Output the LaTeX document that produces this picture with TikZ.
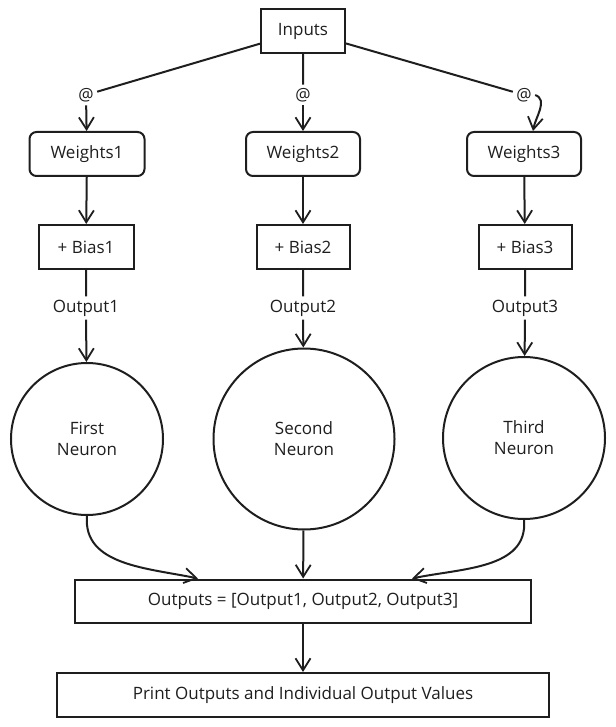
\documentclass[tikz,border=0pt]{standalone}
\usepackage{fontspec}
\setmainfont{Open Sans}
\usetikzlibrary{arrows.meta}
\definecolor{ink}{HTML}{1E1E1E}
\begin{document}
\begin{tikzpicture}
  [x=1pt,y=-1pt,
   every node/.style={font=\fontsize{17}{21}\selectfont,text=ink},
   box/.style={draw=ink,line width=2pt,rectangle,minimum height=44pt,inner sep=0pt},
   rbox/.style={box,rounded corners=7pt},
   neuron/.style={draw=ink,line width=2pt,circle,align=center,inner sep=0pt},
   arr/.style={-{Straight Barb[length=12pt,width=15pt,line width=1.8pt]}}]
  \useasboundingbox (0,0) rectangle (615,727);
  \node[box,minimum width=84pt] (in) at (303,31) {Inputs};
  \node (at1) at (86,95) {@};
  \node (at2) at (303,95) {@};
  \node (at3) at (524,95) {@};
  \node[rbox,minimum width=115pt] (w1) at (87,154) {Weights1};
  \node[rbox,minimum width=114pt] (w2) at (303,154) {Weights2};
  \node[rbox,minimum width=114pt] (w3) at (524,154) {Weights3};
  \node[box,minimum width=95pt] (b1) at (86,247) {+ Bias1};
  \node[box,minimum width=93pt] (b2) at (303,247) {+ Bias2};
  \node[box,minimum width=93pt] (b3) at (525,247) {+ Bias3};
  \node (o1) at (86,308) {Output1};
  \node (o2) at (303,308) {Output2};
  \node (o3) at (525,308) {Output3};
  \node[neuron,minimum size=152pt] (n1) at (87,439) {First\\Neuron};
  \node[neuron,minimum size=181pt] (n2) at (304,439) {Second\\Neuron};
  \node[neuron,minimum size=162pt] (n3) at (524,438) {Third\\Neuron};
  \node[box,minimum width=456pt,minimum height=43pt] (outs) at (303,601) {Outputs = [Output1, Output2, Output3]};
  \node[box,minimum width=492pt] (prt) at (303,695) {Print Outputs and Individual Output Values};

  \path[draw=ink,line width=2pt]
        (in) -- (at1)
        (in) -- (at2)
        (in) -- (at3)
        (b1) -- (o1)
        (b2) -- (o2)
        (b3) -- (o3);
  \path[draw=ink,line width=2pt,every edge/.append style={arr}]
        (at1) edge (w1)
        (at2) edge (w2)
        (at3.east) edge[out=-20,in=80] ([xshift=9pt]w3.north)
        (w1) edge (b1)
        (w2) edge (b2)
        (w3) edge (b3)
        (o1) edge (n1)
        (o2) edge (n2)
        (o3) edge (n3)
        (n1.south) edge[out=-95,in=168] ([xshift=-105pt]outs.north)
        (n2) edge (outs)
        (n3.south) edge[out=-85,in=12] ([xshift=109pt]outs.north)
        (outs) edge (prt);

\end{tikzpicture}
\end{document}
